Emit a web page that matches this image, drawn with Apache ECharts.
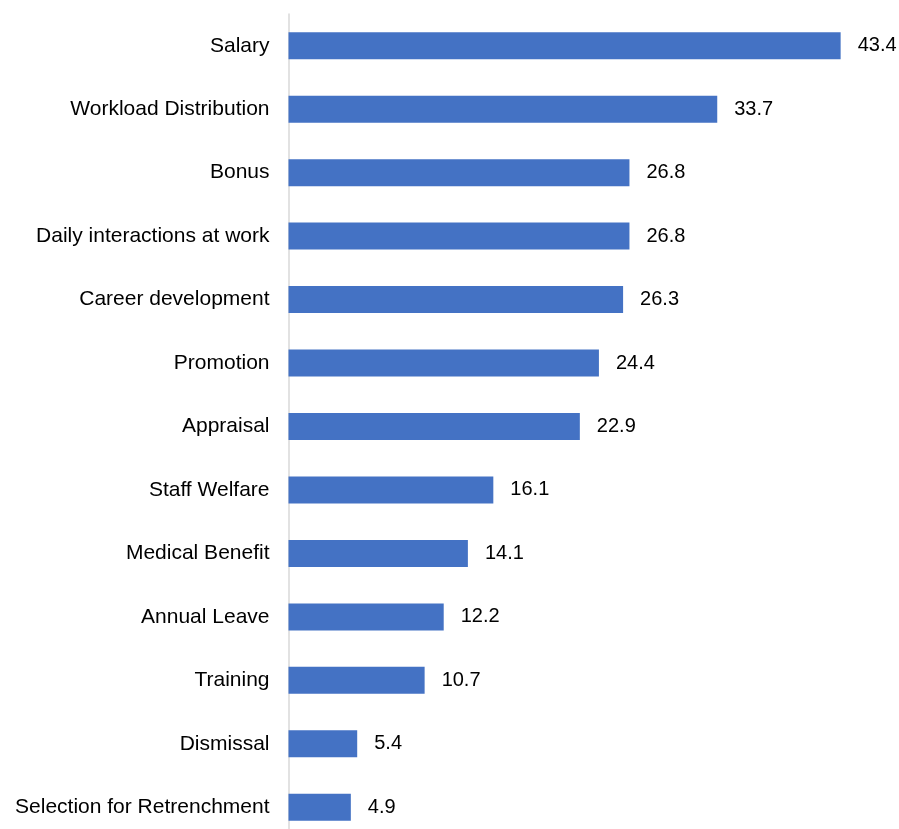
<!DOCTYPE html>
<html>
<head>
<meta charset="utf-8">
<script src="https://cdn.jsdelivr.net/npm/echarts@6/dist/echarts.min.js"></script>
<style>
  html, body { margin: 0; padding: 0; background: #fff; overflow: hidden; }
  /* plot runs a little past the bottom edge of the window, as in the reference */
  #barChart { width: 899px; height: 839px; }
</style>
</head>
<body>
<div id="barChart"></div>
<script>
// categories, top to bottom
const categories = [
  "Salary",
  "Workload Distribution",
  "Bonus",
  "Daily interactions at work",
  "Career development",
  "Promotion",
  "Appraisal",
  "Staff Welfare",
  "Medical Benefit",
  "Annual Leave",
  "Training",
  "Dismissal",
  "Selection for Retrenchment"
];
const values = [43.4, 33.7, 26.8, 26.8, 26.3, 24.4, 22.9, 16.1, 14.1, 12.2, 10.7, 5.4, 4.9];

const chart = echarts.init(document.getElementById("barChart"));
const font = "Arial, 'Liberation Sans', sans-serif";

chart.setOption({
  animation: false,
  grid: {
    left: 288.5,
    right: 38,
    top: 14,
    bottom: 0
  },
  xAxis: {
    type: "value",
    min: 0,
    max: 45,
    show: false
  },
  yAxis: {
    type: "category",
    inverse: true,
    data: categories,
    axisLine: { show: true, lineStyle: { color: "#d9d9d9", width: 1.5 } },
    axisTick: { show: false },
    axisLabel: {
      margin: 19,
      fontFamily: font,
      fontSize: 21,
      color: "#000"
    }
  },
  series: [
    {
      type: "bar",
      data: values,
      barWidth: 27,
      itemStyle: { color: "#4472C4" },
      label: {
        show: true,
        position: "right",
        distance: 17,
        fontFamily: font,
        fontSize: 20,
        color: "#000",
        formatter: (p) => p.value.toFixed(1)
      }
    }
  ]
});
</script>
</body>
</html>
